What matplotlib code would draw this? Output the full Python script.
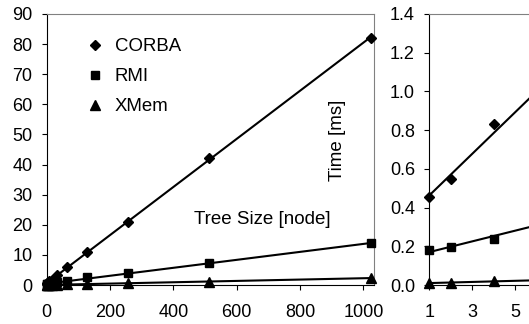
import numpy as np
import matplotlib
matplotlib.use("Agg")
import matplotlib.pyplot as plt

plt.rcParams['font.family'] = ['Liberation Sans', 'DejaVu Sans']
plt.rcParams['font.size'] = 13

# tree sizes (nodes) and measured round-trip times in ms
sizes = [1, 2, 4, 8, 16, 32, 64, 128, 256, 512, 1024]
corba = [0.455, 0.55, 0.83, 1.2, 1.8, 3.2, 6.0, 10.8, 21.0, 42.3, 82.0]
rmi = [0.18, 0.195, 0.24, 0.37, 0.6, 1.0, 1.4, 2.7, 3.9, 7.3, 13.8]
xmem = [0.01, 0.012, 0.02, 0.03, 0.05, 0.09, 0.17, 0.32, 0.62, 1.15, 2.3]

series = [("CORBA", corba, "D", 5.5), ("RMI", rmi, "s", 6), ("XMem", xmem, "^", 6.5)]

# small trees only, for the zoomed panel
small_n = 4

W, H = 529, 324
fig = plt.figure(figsize=(W / 100, H / 100), dpi=100)

bottom = (H - 285) / H
height = (285 - 14) / H
ax1 = fig.add_axes([46.7 / W, bottom, (373.5 - 46.7) / W, height])
ax2 = fig.add_axes([429.3 / W, bottom, 8 * 21.5 / W, height])


def style(ax):
    for side in ("top", "right"):
        ax.spines[side].set_color("#808080")
        ax.spines[side].set_linewidth(0.8)
    for side in ("left", "bottom"):
        ax.spines[side].set_color("black")
        ax.spines[side].set_linewidth(0.8)
    ax.tick_params(axis="both", direction="out", length=3.5, width=0.8,
                   labelsize=13, colors="black")
    ax.tick_params(axis="x", pad=10)
    ax.tick_params(axis="y", pad=6.8)


def trend(ax, x, y, x0, x1):
    k, b = np.polyfit(x, y, 1)
    xs = np.array([x0, x1])
    ax.plot(xs, k * xs + b, color="black", lw=1.5, zorder=2)


for name, vals, mk, ms in series:
    trend(ax1, sizes, vals, 0, sizes[-1])
    ax1.plot(sizes, vals, linestyle="none", marker=mk, ms=ms, color="black",
             label=name, zorder=3, clip_on=False)

    trend(ax2, sizes[:small_n], vals[:small_n], 1, sizes[small_n - 1])
    ax2.plot(sizes[:small_n], vals[:small_n], linestyle="none", marker=mk,
             ms=ms, color="black", zorder=3, clip_on=False)

ax1.set_xlim(0, 1032)
ax1.set_ylim(0, 90)
ax1.set_xticks(range(0, 1001, 200))
ax1.set_yticks(range(0, 91, 10))
style(ax1)

ax2.set_xlim(1, 9)
ax2.set_ylim(0, 1.4)
ax2.set_xticks([1, 3, 5])
ax2.set_yticks(np.arange(0, 1.41, 0.2))
ax2.yaxis.set_major_formatter(matplotlib.ticker.FormatStrFormatter("%.1f"))
style(ax2)

ax1.legend(loc="upper left", bbox_to_anchor=(0.119, 0.911), frameon=False,
           fontsize=13.4, handlelength=1.0, handletextpad=0.58,
           labelspacing=0.7, borderpad=0, borderaxespad=0)

fig.text(262 / W, 1 - 220 / H, "Tree Size [node]", ha="center", va="center",
         fontsize=13.5)
fig.text(338 / W, 1 - 140 / H, "Time [ms]", ha="center", va="center",
         rotation=90, fontsize=13.5)

fig.savefig("out.png", dpi=100)
